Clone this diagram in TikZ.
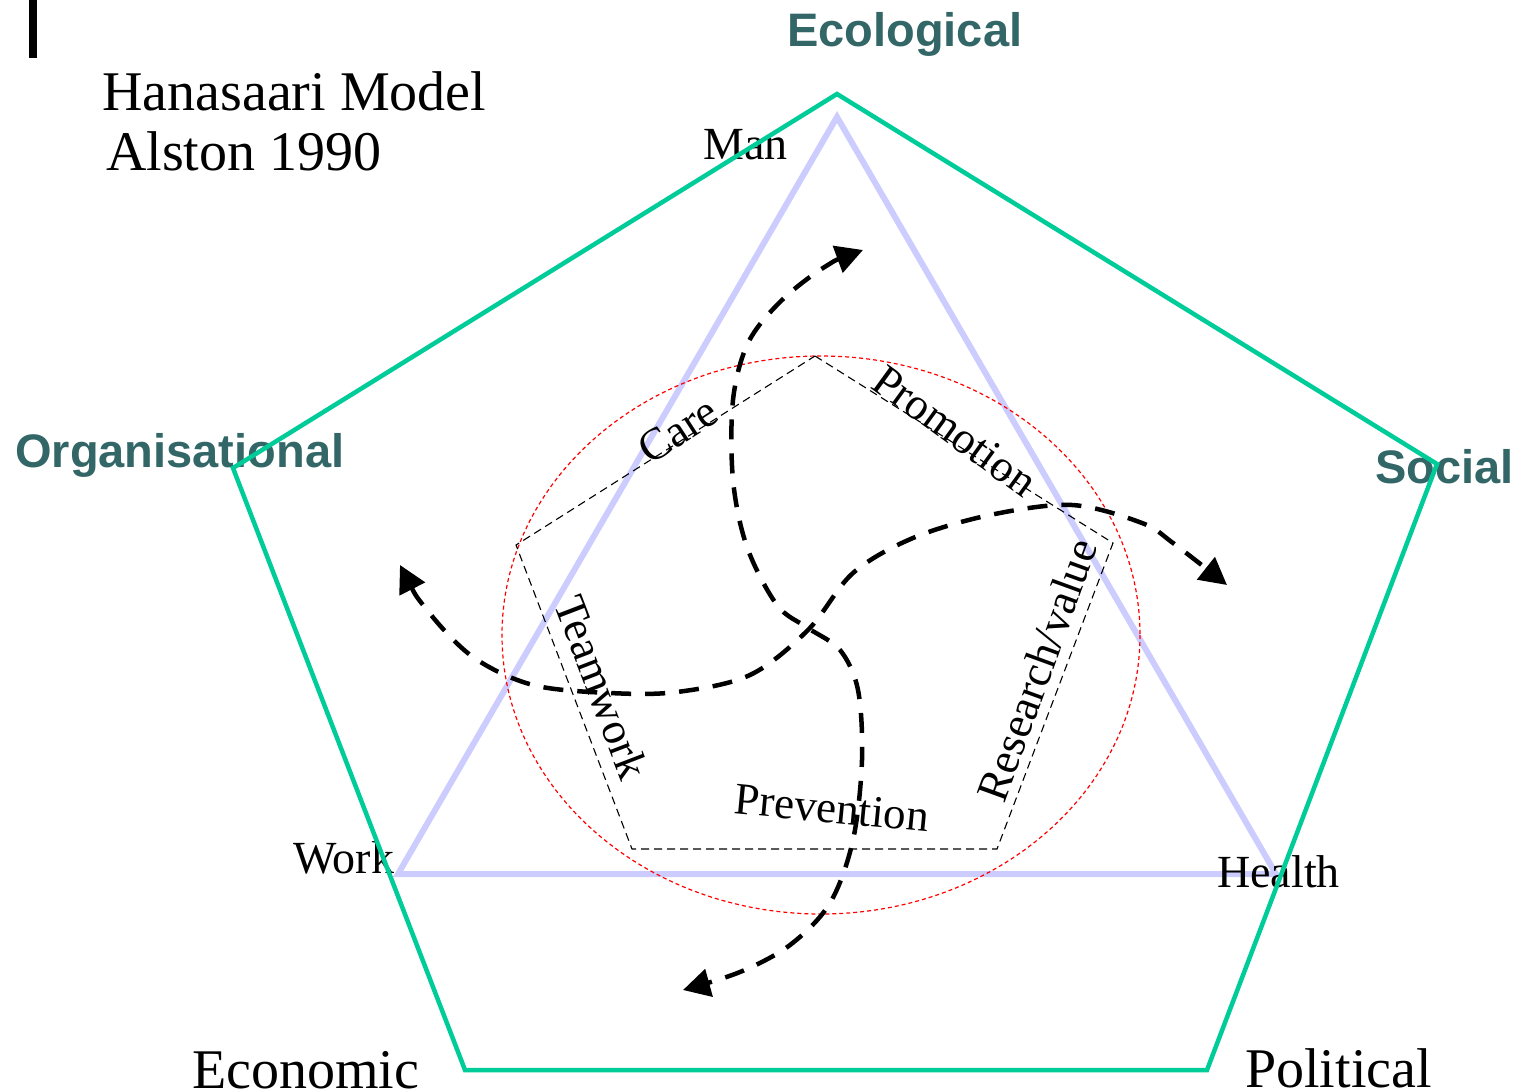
\documentclass[tikz,border=0pt]{standalone}
\usepackage{fontspec}
\setmainfont{Liberation Serif}
\newfontfamily\headsans{Liberation Sans}
\usetikzlibrary{arrows.meta}
\definecolor{pentgreen}{RGB}{0,204,153}
\definecolor{headteal}{RGB}{51,102,102}
\definecolor{lavtri}{RGB}{204,204,255}
\begin{document}
\begin{tikzpicture}[x=1pt,y=-1pt,
  dimlabel/.style={font=\headsans\bfseries\fontsize{47}{47}\selectfont, text=headteal, inner sep=0pt},
  bigserif/.style={font=\fontsize{56}{56}\selectfont, inner sep=0pt},
  vertexlabel/.style={font=\fontsize{46}{46}\selectfont, inner sep=0pt},
  sidelabel/.style={font=\fontsize{45}{45}\selectfont, inner sep=0pt},
  outerpent/.style={draw=pentgreen, line width=4.5pt, line join=miter},
  triline/.style={draw=lavtri, line width=6pt},
  innerpent/.style={draw=black, line width=1.1pt, dash pattern=on 8pt off 5pt},
  redcircle/.style={draw=red, line width=1.2pt, dash pattern=on 4pt off 3pt},
  flowarrow/.style={draw=black, line width=4.5pt, dash pattern=on 20pt off 14pt,
    {Triangle[length=27pt,width=28pt]}-{Triangle[length=27pt,width=28pt]}}
]
\useasboundingbox (0,0) rectangle (1529,1092);

% coordinates
\coordinate (O1) at (837,94);
\coordinate (O2) at (1437,464);
\coordinate (O3) at (1207,1070);
\coordinate (O4) at (465,1070);
\coordinate (O5) at (233,468);

\coordinate (T1) at (837,117);
\coordinate (T2) at (1276,874);
\coordinate (T3) at (398,874);

\coordinate (P1) at (815,356);
\coordinate (P2) at (1113,543);
\coordinate (P3) at (997,849);
\coordinate (P4) at (632,849);
\coordinate (P5) at (516,545);

% left bar
\fill[black] (29,0) rectangle (37,58);

% triangle
\draw[triline] (T1) -- (T2) -- (T3) -- cycle;

% red dashed circle
\draw[redcircle] (821,635) ellipse [x radius=319, y radius=279];

% inner pentagon
\draw[innerpent] (P1) -- (P2) -- (P3) -- (P4) -- (P5) -- cycle;

% texts
\node[bigserif, anchor=base west] (title1) at (102,110) {Hanasaari Model};
\node[bigserif, anchor=base west] (title2) at (106,170) {Alston 1990};

\node[dimlabel, anchor=base west] (ecol) at (787,46) {Ecological};
\node[dimlabel, anchor=base west] (org) at (15,467) {Organisational};
\node[dimlabel, anchor=base west] (soc) at (1375,483) {Social};
\node[bigserif, anchor=base west] (econ) at (192,1088) {Economic};
\node[bigserif, anchor=base west] (pol) at (1245,1087) {Political};

\node[vertexlabel, anchor=base west] (man) at (703,159) {Man};
\node[vertexlabel, anchor=base west] (work) at (293,873) {Work};
\node[vertexlabel, anchor=base west] (health) at (1217,887) {Health};

\node[sidelabel, rotate=33] (care) at (678,430) {Care};
\node[sidelabel, rotate=-36] (promo) at (955,431) {Promotion};
\node[sidelabel, rotate=-69] (team) at (602,687) {Teamwork};
\node[sidelabel, rotate=70] (research) at (1037,670) {Research/value};
\node[sidelabel, rotate=-5.5] (prev) at (832,808) {Prevention};

% flow arrows
\draw[flowarrow] plot[smooth, tension=0.55] coordinates {
  (863,250) (823,268) (780,302) (748,343) (733,400) (733,480) (747,547)
  (777,605) (808,628) (840,650) (858,690) (862,760) (853,840) (830,903)
  (790,945) (740,972) (683,990)};
\draw[flowarrow] plot[smooth, tension=0.55] coordinates {
  (400,565) (427,610) (473,657) (533,685) (610,693) (677,692) (750,675)
  (808,630) (853,573) (913,538) (990,515) (1072,505) (1142,523) (1173,543)
  (1227,585)};

% outer pentagon
\draw[outerpent] (O1) -- (O2) -- (O3) -- (O4) -- (O5) -- cycle;
\end{tikzpicture}
\end{document}
